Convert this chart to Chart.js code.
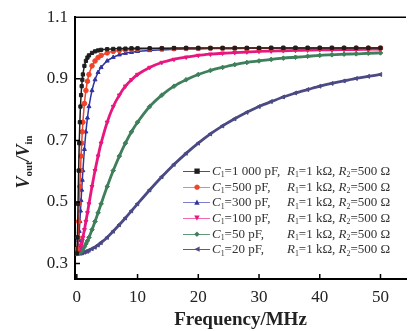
<!DOCTYPE html>
<html>
<head>
<meta charset="utf-8">
<script src="https://cdn.jsdelivr.net/npm/chart.js@4"></script>
<style>
  body { margin: 0; background: #fff; }
  #wrap { position: relative; width: 411px; height: 331px; }
  #ytitle {
    position: absolute; left: 23px; top: 162px;
    transform: translate(-50%, -50%) rotate(-90deg);
    font: italic bold 18px 'Liberation Serif', 'Times New Roman', serif;
    color: #222; white-space: nowrap;
  }
  #ytitle sub { font-size: 0.6em; font-style: normal; vertical-align: baseline; position: relative; top: 0.3em; }
  #legend sub { font-size: 0.6em; font-style: normal; vertical-align: baseline; position: relative; top: 0.3em; }
  #legend { position: absolute; left: 183px; top: 163px; font: 13px 'Liberation Serif', 'Times New Roman', serif; color: #333; }
  .row { position: relative; height: 15.7px; white-space: nowrap; }
  .line { position: absolute; left: 0; top: 8px; width: 27px; height: 0; border-top: 1.2px solid; }
  .mk { position: absolute; left: 10px; top: 0; width: 8px; text-align: center; font: 7px 'DejaVu Sans', sans-serif; line-height: 16.5px; }
  .c1 { position: absolute; left: 29px; top: 0; }
  .c2 { position: absolute; left: 104px; top: 0; }
</style>
</head>
<body>
<div id="wrap">
  <canvas id="chart" width="411" height="331"></canvas>
  <div id="ytitle"><i>V</i><sub>out</sub>/<i>V</i><sub>in</sub></div>
  <div id="legend"></div>
</div>
<script>
// frequency points (MHz) shared by all curves
const freqMHz = [0, 0.1, 0.2, 0.3, 0.4, 0.5, 0.6, 0.7, 0.8, 0.9, 1, 1.25, 1.5, 1.75, 2, 2.5, 3, 3.5, 4,
  5, 6, 7, 8, 9, 10, 12, 14, 16, 18, 20, 22, 24, 26, 28, 30, 32, 34, 36, 38, 40, 42, 44, 46, 48, 50];

// Vout/Vin
const vC1000 = [0.333, 0.385, 0.494, 0.602, 0.691, 0.759, 0.810, 0.847, 0.876, 0.897, 0.914,
  0.942, 0.958, 0.969, 0.976, 0.984, 0.989, 0.992, 0.994,
  0.996, 0.997, 0.998, 0.998, 0.999, 0.999,
  0.999, 0.999, 1.000, 1.000, 1.000, 1.000, 1.000, 1.000, 1.000, 1.000, 1.000, 1.000, 1.000, 1.000, 1.000, 1.000, 1.000, 1.000, 1.000, 1.000];
const vC500 = [0.333, 0.348, 0.385, 0.437, 0.494, 0.550, 0.602, 0.649, 0.691, 0.728, 0.759,
  0.820, 0.862, 0.892, 0.914, 0.942, 0.958, 0.969, 0.976,
  0.984, 0.989, 0.992, 0.994, 0.995, 0.996,
  0.997, 0.998, 0.998, 0.999, 0.999, 0.999, 0.999, 0.999, 0.999, 0.999, 1.000, 1.000, 1.000, 1.000, 1.000, 1.000, 1.000, 1.000, 1.000, 1.000];
const vC300 = [0.333, 0.339, 0.353, 0.376, 0.405, 0.437, 0.471, 0.505, 0.539, 0.571, 0.602,
  0.671, 0.728, 0.773, 0.810, 0.862, 0.897, 0.921, 0.937,
  0.958, 0.970, 0.978, 0.983, 0.986, 0.989,
  0.992, 0.994, 0.996, 0.997, 0.997, 0.998, 0.998, 0.998, 0.999, 0.999, 0.999, 0.999, 0.999, 0.999, 0.999, 0.999, 0.999, 1.000, 1.000, 1.000];
const vC100 = [0.333, 0.334, 0.336, 0.339, 0.343, 0.348, 0.353, 0.360, 0.368, 0.376, 0.385,
  0.410, 0.437, 0.465, 0.494, 0.550, 0.602, 0.649, 0.691,
  0.759, 0.810, 0.847, 0.876, 0.897, 0.914,
  0.937, 0.953, 0.963, 0.970, 0.976, 0.980, 0.983, 0.985, 0.987, 0.989, 0.990, 0.991, 0.992, 0.993, 0.994, 0.994, 0.995, 0.995, 0.996, 0.996];
const vC50 = [0.333, 0.333, 0.334, 0.335, 0.336, 0.337, 0.339, 0.340, 0.343, 0.345, 0.348,
  0.355, 0.364, 0.374, 0.385, 0.410, 0.437, 0.465, 0.494,
  0.550, 0.602, 0.649, 0.691, 0.728, 0.759,
  0.810, 0.847, 0.876, 0.897, 0.914, 0.927, 0.937, 0.946, 0.953, 0.958, 0.963, 0.967, 0.970, 0.973, 0.976, 0.978, 0.980, 0.981, 0.983, 0.984];
const vC20 = [0.333, 0.333, 0.333, 0.334, 0.334, 0.334, 0.334, 0.334, 0.335, 0.335, 0.336,
  0.337, 0.339, 0.340, 0.343, 0.348, 0.353, 0.360, 0.368,
  0.385, 0.405, 0.426, 0.448, 0.471, 0.494,
  0.539, 0.582, 0.622, 0.658, 0.691, 0.721, 0.747, 0.770, 0.791, 0.810, 0.826, 0.841, 0.854, 0.865, 0.876, 0.885, 0.893, 0.901, 0.908, 0.914];

const c1Labels = ['1 000', '500', '300', '100', '50', '20'];
const r1Label = '1 k\u03A9';
const r2Label = '500 \u03A9';

const xTicks = [0, 10, 20, 30, 40, 50];
const yTicks = [0.3, 0.5, 0.7, 0.9, 1.1];

const seriesValues = [vC1000, vC500, vC300, vC100, vC50, vC20];
const lineColors = ['#1e1e1e', '#f0432a', '#2f33a0', '#e8177f', '#3f7f5c', '#4b4a84'];
const legendLineColors = ['#555', '#f4866a', '#7c7cd0', '#f06ab0', '#5f9a78', '#5c5a90'];
const markerStyles = ['rect', 'circle', 'triangle', 'triangle', 'rectRot', 'triangle'];
const markerRotation = [0, 0, 0, 180, 0, -90];
const legendGlyphs = ['\u25A0', '\u25CF', '\u25B2', '\u25BC', '\u25C6', '\u25C0'];

const datasets = seriesValues.map((vals, i) => ({
    label: 'C1=' + c1Labels[i] + ' pF',
    data: vals.map((v, k) => ({ x: freqMHz[k], y: v })),
    borderColor: lineColors[i],
    backgroundColor: lineColors[i],
    borderWidth: i < 3 ? 1.5 : 2.8,
    pointStyle: markerStyles[i],
    rotation: markerRotation[i],
    pointRadius: 2.3,
    pointBorderWidth: 1,
    tension: 0.3,
    fill: false
}));

// inward tick marks + top frame line
const frame = {
    id: 'frame',
    afterDraw(chart) {
        const { ctx, chartArea: a, scales } = chart;
        ctx.save();
        ctx.strokeStyle = '#000';
        ctx.lineWidth = 1.5;
        ctx.beginPath();
        ctx.moveTo(a.left, a.top);
        ctx.lineTo(a.right, a.top);
        yTicks.forEach(v => {
            const y = scales.y.getPixelForValue(v);
            ctx.moveTo(a.left, y);
            ctx.lineTo(a.left + 5, y);
        });
        xTicks.forEach(v => {
            const x = scales.x.getPixelForValue(v);
            ctx.moveTo(x, a.bottom);
            ctx.lineTo(x, a.bottom - 5);
        });
        ctx.stroke();
        ctx.restore();
    }
};

const serif = "'Liberation Serif', 'Times New Roman', serif";

new Chart(document.getElementById('chart'), {
    type: 'line',
    data: { datasets },
    options: {
        responsive: false,
        animation: false,
        devicePixelRatio: 1,
        layout: { padding: { top: 15, right: 0, left: 0, bottom: 0 } },
        plugins: { legend: { display: false }, tooltip: { enabled: false } },
        scales: {
            x: {
                type: 'linear',
                min: -0.3,
                max: 54.2,
                afterBuildTicks: s => { s.ticks = xTicks.map(v => ({ value: v })); },
                afterFit: s => { s.height = 52; },
                grid: { drawOnChartArea: false, drawTicks: false },
                border: { display: true, color: '#000', width: 2 },
                ticks: { padding: 8, color: '#222', font: { family: serif, size: 17 } },
                title: {
                    display: true, text: 'Frequency/MHz', color: '#222',
                    font: { family: serif, size: 19, weight: 'bold' },
                    padding: { top: 0, bottom: 0 }
                }
            },
            y: {
                min: 0.25,
                max: 1.1,
                afterBuildTicks: s => { s.ticks = yTicks.map(v => ({ value: v })); },
                afterFit: s => { s.width = 75; },
                grid: { drawOnChartArea: false, drawTicks: false },
                border: { display: true, color: '#000', width: 2 },
                ticks: {
                    padding: 7, color: '#222', font: { family: serif, size: 17 },
                    callback: v => v.toFixed(1)
                }
            }
        }
    },
    plugins: [frame]
});

// legend as real text with italics and subscripts
const legend = document.getElementById('legend');
c1Labels.forEach((c, i) => {
    const row = document.createElement('div');
    row.className = 'row';
    row.innerHTML =
        `<span class="line" style="border-color:${legendLineColors[i]}"></span>` +
        `<span class="mk" style="color:${lineColors[i]}">${legendGlyphs[i]}</span>` +
        `<span class="c1"><i>C</i><sub>1</sub>=${c} pF,</span>` +
        `<span class="c2"><i>R</i><sub>1</sub>=${r1Label}, <i>R</i><sub>2</sub>=${r2Label}</span>`;
    legend.appendChild(row);
});
</script>
</body>
</html>
